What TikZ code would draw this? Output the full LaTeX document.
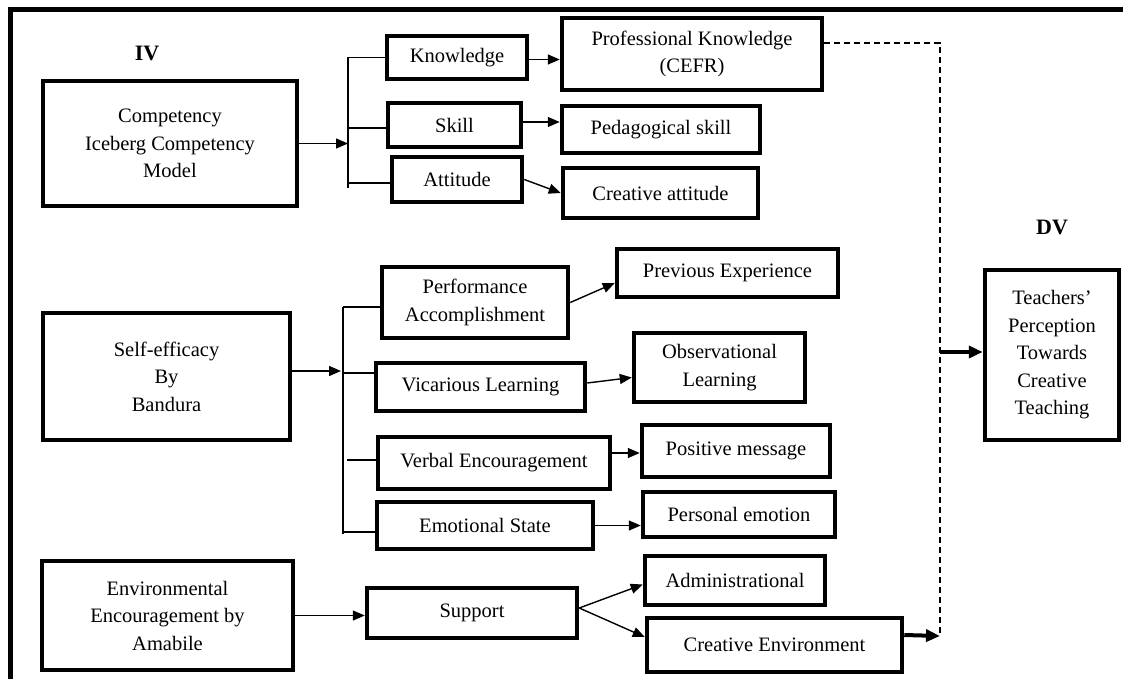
\documentclass[tikz,border=0pt]{standalone}
\usepackage{fontspec}
\setmainfont{Liberation Serif}
\usetikzlibrary{arrows.meta}
\begin{document}
\begin{tikzpicture}[x=1pt,y=-1pt,
  box/.style={draw, line width=4.5pt, align=center, inner sep=0pt, font=\fontsize{20.5}{27.5}\selectfont},
  lbl/.style={font=\fontsize{22}{24}\selectfont\bfseries},
  arr/.style={line width=1.4pt, -{Triangle[length=12pt,width=10pt]}},
  thickarr/.style={line width=4pt, -{Triangle[length=14pt,width=12pt]}},
  brk/.style={line width=1.3pt},
  dashline/.style={line width=1.4pt, dash pattern=on 6pt off 4pt},
]
\useasboundingbox (0,0) rectangle (1123,679);
\fill[white] (0,0) rectangle (1123,679);
% outer frame (left and top edges visible)
\draw[line width=4.5pt] (10.5,679) -- (10.5,9.5) -- (1123,9.5);

% labels
\node[lbl] (iv) at (147,53) {IV};
\node[lbl] (dv) at (1052,227) {DV};

% group 1
\node[box, minimum width=254pt, minimum height=125pt] (comp) at (170,143.5) {Competency\\Iceberg Competency\\Model};
\node[box, minimum width=140pt, minimum height=43pt] (know) at (457,57.5) {Knowledge};
\node[box, minimum width=133pt, minimum height=44pt] (skill) at (454.5,125) {Skill};
\node[box, minimum width=130pt, minimum height=45pt] (att) at (457,179.5) {Attitude};
\node[box, minimum width=260pt, minimum height=72pt] (prof) at (692,54) {Professional Knowledge\\(CEFR)};
\node[box, minimum width=198pt, minimum height=47pt] (ped) at (661,129.5) {Pedagogical skill};
\node[box, minimum width=195pt, minimum height=50pt] (cratt) at (660.5,193) {Creative attitude};

% group 2
\node[box, minimum width=247pt, minimum height=127pt] (self) at (166.5,376.5) {Self-efficacy\\By\\Bandura};
\node[box, minimum width=186pt, minimum height=71pt] (perf) at (475,302.5) {Performance\\Accomplishment};
\node[box, minimum width=221pt, minimum height=48pt] (prev) at (727.5,273) {Previous Experience};
\node[box, minimum width=209pt, minimum height=48pt] (vic) at (480.5,387) {Vicarious Learning};
\node[box, minimum width=171pt, minimum height=69pt] (obs) at (719.5,367.5) {Observational\\Learning};
\node[box, minimum width=232pt, minimum height=52pt] (verb) at (494,463) {Verbal Encouragement};
\node[box, minimum width=188pt, minimum height=52pt] (pos) at (736,451) {Positive message};
\node[box, minimum width=216pt, minimum height=47pt] (emo) at (485,525.5) {Emotional State};
\node[box, minimum width=192pt, minimum height=45pt] (pers) at (739,514.5) {Personal emotion};

% group 3
\node[box, minimum width=251pt, minimum height=109pt] (env) at (167.5,615.5) {Environmental\\Encouragement by\\Amabile};
\node[box, minimum width=210pt, minimum height=50pt] (sup) at (472,613) {Support};
\node[box, minimum width=180pt, minimum height=49pt] (adm) at (735,580.5) {Administrational};
\node[box, minimum width=255pt, minimum height=54pt] (cenv) at (774.5,645) {Creative Environment};

% DV
\node[box, minimum width=134pt, minimum height=170pt] (teach) at (1052,355) {Teachers’\\Perception\\Towards\\Creative\\Teaching};

% bracket 1
\coordinate (b1a) at (348,57.5);
\coordinate (b1m) at (348,143.5);
\coordinate (b1b) at (348,128);
\coordinate (b1c) at (348,183);
\coordinate (b1e) at (348,188);
\draw[brk] (b1a) -- (b1e);
\draw[brk] (b1a) -- (know.west);
\draw[brk] (b1b) -- (b1b -| skill.west);
\draw[brk] (b1c) -- (b1c -| att.west);
\draw[arr] (comp.east) -- (b1m);

% bracket 2
\coordinate (b2a) at (343,307);
\coordinate (b2m) at (341,371);
\coordinate (b2b) at (343,373);
\coordinate (b2c) at (347,460);
\coordinate (b2d) at (343,532);
\coordinate (b2e) at (343,534);
\draw[brk] (b2a) -- (b2e);
\draw[brk] (b2a) -- (b2a -| perf.west);
\draw[brk] (b2b) -- (b2b -| vic.west);
\draw[brk] (b2c) -- (b2c -| verb.west);
\draw[brk] (b2d) -- (b2d -| emo.west);
\draw[arr] (self.east |- b2m) -- (b2m);

% arrows to outcomes
\draw[arr] ([yshift=-2pt]know.east) -- ([yshift=-2pt]know.east -| prof.west);
\draw[arr] ([yshift=3pt]skill.east) -- ([yshift=3pt]skill.east -| ped.west);
\draw[arr] (att.east) -- (cratt.west);
\draw[arr] (perf.east) -- ([yshift=-10pt]prev.west);
\draw[arr] ([yshift=4pt]vic.east) -- ([yshift=-10pt]obs.west);
\draw[arr] ([yshift=10pt]verb.east) -- ([yshift=10pt]verb.east -| pos.west);
\draw[arr] (emo.east) -- (emo.east -| pers.west);
\draw[arr] (env.east) -- (env.east -| sup.west);
\draw[arr] ([yshift=5pt]sup.east) -- ([yshift=-4pt]adm.west);
\draw[arr] ([yshift=5pt]sup.east) -- ([yshift=8pt]cenv.west);

% dashed connector to DV
\coordinate (d1) at (940,43);
\coordinate (d2) at (940,636);
\coordinate (d3) at (940,352);
\draw[dashline] ([yshift=11pt]prof.east) -- (d1) -- (d2);
\draw[thickarr] ([yshift=10pt]cenv.east) -- (d2);
\draw[thickarr] (d3) -- (d3 -| teach.west);
\end{tikzpicture}
\end{document}
